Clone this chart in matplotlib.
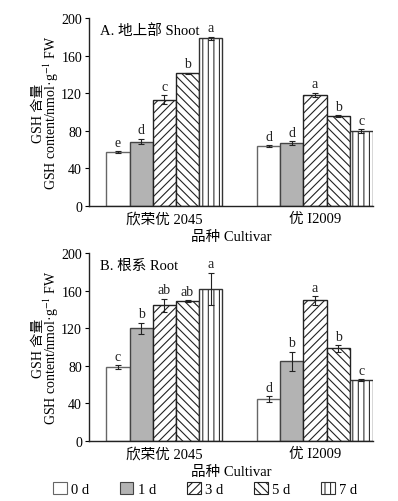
import matplotlib
matplotlib.use("Agg")
import matplotlib.pyplot as plt
import numpy as np
from matplotlib.patches import Patch

plt.rcParams['font.family'] = ['Liberation Serif', 'Noto Sans CJK SC']
plt.rcParams['mathtext.fontset'] = 'stix'
plt.rcParams['hatch.linewidth'] = 0.8
plt.rcParams['axes.unicode_minus'] = False

cultivars = ["欣荣优 2045", "优 I2009"]
days = ["0 d", "1 d", "3 d", "5 d", "7 d"]

shoot_vals = [[57, 68.5, 113, 141, 178.5], [63.5, 67, 118, 95.5, 80]]
shoot_err = [[1, 3, 5, 1, 1.5], [1, 2, 2.5, 1, 2]]
shoot_sig = [["e", "d", "c", "b", "a"], ["d", "d", "a", "b", "c"]]

root_vals = [[78.5, 120, 144.5, 149, 162], [44.5, 85, 149.5, 98.5, 64.5]]
root_err = [[2, 6, 7, 1, 17], [3.5, 10, 4.5, 3.5, 1]]
root_sig = [["c", "b", "ab", "ab", "a"], ["d", "b", "a", "b", "c"]]

fills = ["white", "#b3b3b3", "white", "white", "white"]
hatches = [None, None, "////", "\\\\\\\\", "|||"]
edges = ["#666666", "#444444", "#222222", "#222222", "#333333"]

W, H = 398, 502
fig = plt.figure(figsize=(W / 100, H / 100), dpi=100)

def make_ax(top, bottom):
    left, right = 89, 373
    return fig.add_axes([left / W, 1 - bottom / H, (right - left) / W, (bottom - top) / H])

ax1 = make_ax(19, 207)
ax2 = make_ax(254, 442)

bw = 0.154
x = np.arange(len(cultivars))

def draw(ax, vals, errs, sigs, title):
    for j in range(len(days)):
        pos = x + (j - 2) * bw
        v = [vals[g][j] for g in range(len(cultivars))]
        e = [errs[g][j] for g in range(len(cultivars))]
        ax.bar(pos, v, width=bw, color=fills[j], edgecolor=edges[j], hatch=hatches[j],
               linewidth=1.0, zorder=2)
        ax.errorbar(pos, v, yerr=e, fmt='none', ecolor='#222222', elinewidth=0.8,
                    capsize=2.3, capthick=0.8, zorder=3)
        for g in range(len(cultivars)):
            ax.text(pos[g], v[g] + e[g] + 2.5, sigs[g][j], ha='center', va='bottom',
                    fontsize=10, color='#222222')
    ax.set_xlim(-0.5, 1 + 2.5 * bw)
    ax.set_ylim(0, 200)
    ax.set_yticks(np.arange(0, 201, 40))
    ax.set_xticks(x)
    ax.set_xticklabels(cultivars, fontsize=10.5)
    ax.tick_params(axis='x', length=0, pad=4)
    ax.tick_params(axis='y', direction='out', length=3, labelsize=10, width=0.8, pad=2)
    for s in ['top', 'right']:
        ax.spines[s].set_visible(False)
    for s in ['left', 'bottom']:
        ax.spines[s].set_linewidth(1.0)
        ax.spines[s].set_color('#222222')
    ax.text(0.04, 0.97, title, transform=ax.transAxes, ha='left', va='top', fontsize=10.5)
    ax.set_xlabel("品种 Cultivar", fontsize=10.5, labelpad=3)
    ax.set_ylabel("GSH 含量\nGSH content/nmol·g$^{-1}$ FW", fontsize=10, labelpad=0,
                  linespacing=0.8)

draw(ax1, shoot_vals, shoot_err, shoot_sig, "A. 地上部 Shoot")
draw(ax2, root_vals, root_err, root_sig, "B. 根系 Root")

handles = [Patch(facecolor=fills[j], edgecolor=edges[j], hatch=hatches[j], linewidth=0.8)
           for j in range(len(days))]
fig.legend(handles, days, loc='center', bbox_to_anchor=(0.515, 1 - 490 / H), ncol=5,
           frameon=False, fontsize=10.5, handlelength=0.95, handleheight=0.95,
           columnspacing=2.1, handletextpad=0.3)

fig.savefig("out.png", dpi=100)
